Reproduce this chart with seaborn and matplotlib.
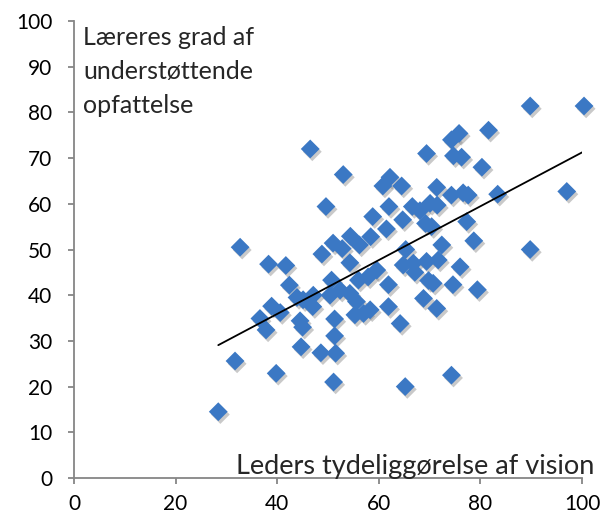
import matplotlib
matplotlib.use("Agg")
import matplotlib.pyplot as plt
import matplotlib.patheffects as pe
import seaborn as sns
import pandas as pd

# Data
vision = [28.4, 31.7, 32.7, 36.6, 37.8, 38.3, 38.9, 39.8, 40.6, 41.7,
          42.4, 44.5, 45.0, 44.7, 45.1, 47.1, 47.0, 48.6, 48.8, 46.5,
          49.6, 50.4, 50.7, 51.0, 51.3, 51.3, 51.5, 51.1, 52.4, 52.8,
          53.0, 54.3, 54.3, 54.4, 55.6, 55.3, 56.0, 56.2, 57.0, 57.9,
          58.3, 58.4, 58.8, 59.6, 60.8, 61.5, 61.9, 61.9, 62.0, 62.2,
          64.2, 64.5, 64.7, 64.8, 65.2, 65.3, 66.6, 66.8, 67.1, 68.1,
          68.8, 69.4, 69.4, 69.2, 69.8, 70.1, 70.4, 70.7, 71.4, 71.4,
          71.5, 71.7, 72.4, 74.3, 74.3, 74.3, 74.6, 74.7, 75.8, 76.0,
          76.3, 76.6, 77.6, 77.3, 78.7, 79.4, 80.3, 81.6, 83.4, 89.8,
          89.8, 97.0, 100.4, 43.9]
stoette = [14.5, 25.6, 50.5, 34.9, 32.4, 46.8, 37.6, 22.9, 36.2, 46.5,
           42.2, 34.4, 33.0, 28.7, 39.0, 40.0, 37.5, 27.4, 49.0, 72.0,
           59.4, 40.0, 43.3, 51.4, 34.8, 31.1, 27.3, 21.0, 41.1, 50.2,
           66.4, 47.1, 40.4, 52.9, 38.6, 35.7, 43.3, 51.0, 36.0, 44.0,
           36.8, 52.8, 57.2, 45.5, 63.9, 54.5, 42.3, 37.5, 59.4, 65.8,
           33.8, 63.9, 56.5, 46.6, 20.0, 50.0, 59.4, 47.0, 45.0, 58.5,
           39.3, 71.0, 47.4, 55.7, 43.2, 60.1, 55.0, 42.6, 63.6, 37.1,
           59.7, 47.7, 51.0, 74.0, 61.9, 22.5, 42.3, 70.5, 75.4, 46.2,
           70.2, 62.4, 61.9, 56.1, 51.9, 41.2, 68.0, 76.1, 62.1, 81.4,
           50.0, 62.7, 81.4, 39.5]

x_ticks = [0, 20, 40, 60, 80, 100]
y_ticks = [0, 10, 20, 30, 40, 50, 60, 70, 80, 90, 100]
y_label = "Læreres grad af\nunderstøttende\nopfattelse"
x_label = "Leders tydeliggørelse af vision"

df = pd.DataFrame({"vision": vision, "stoette": stoette})

sns.set_style("white")
plt.rcParams["font.family"] = ["Lato", "DejaVu Sans"]

fig = plt.figure(figsize=(6.06, 5.23), dpi=100)
ax = fig.add_axes([74 / 606, 1 - 478 / 523, 508 / 606, 457 / 523])

sns.scatterplot(data=df, x="vision", y="stoette", marker="D", s=92,
                color="#3B78C4", edgecolor="none", ax=ax, clip_on=False,
                zorder=3)
for coll in ax.collections:
    coll.set_path_effects([pe.SimplePatchShadow(offset=(1.5, -2.0),
                                                shadow_rgbFace="#888888",
                                                alpha=0.45),
                           pe.Normal()])

sns.regplot(data=df, x="vision", y="stoette", scatter=False, ci=None,
            truncate=True, ax=ax,
            line_kws=dict(color="black", lw=1.3, zorder=4))

ax.set_xlim(0, 100)
ax.set_ylim(0, 100)
ax.set_xticks(x_ticks)
ax.set_yticks(y_ticks)
ax.set_xlabel("")
ax.set_ylabel("")

for s in ["top", "right"]:
    ax.spines[s].set_visible(False)
for s in ["left", "bottom"]:
    ax.spines[s].set_color("#868686")
    ax.spines[s].set_linewidth(1.3)

ax.tick_params(axis="both", which="major", direction="out", length=4.5,
               width=1.3, color="#868686", labelsize=15, labelcolor="black",
               left=True, bottom=True)
ax.tick_params(axis="x", pad=7)
ax.tick_params(axis="y", pad=11)

ax.text(0.018, 0.99, y_label, transform=ax.transAxes, ha="left", va="top",
        fontsize=18, linespacing=1.6)
ax.text(1.025, 0.009, x_label, transform=ax.transAxes, ha="right",
        va="baseline", fontsize=19.5)

fig.savefig("out.png", dpi=100)
